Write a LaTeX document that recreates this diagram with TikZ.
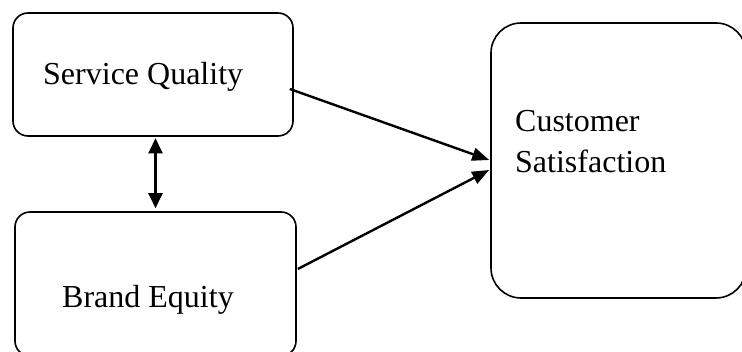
\documentclass[tikz,border=0pt]{standalone}
\usepackage{fontspec}
\setmainfont{Liberation Serif}
\usetikzlibrary{arrows.meta}
\begin{document}
\begin{tikzpicture}[x=1pt,y=-1pt,
  box/.style={draw=black, line width=1.6pt, rounded corners=15pt, inner sep=0pt, fill=white},
  lbl/.style={inner sep=0pt, anchor=base west, font=\fontsize{32}{38}\selectfont},
  conn/.style={line width=2.4pt, -{Triangle[length=17pt,width=13pt]}},
  dconn/.style={line width=2.4pt, {Triangle[length=15pt,width=14pt]}-{Triangle[length=15pt,width=14pt]}}]
\useasboundingbox (0,0) rectangle (742,352);
\clip (0,0) rectangle (742,352);
\fill[white] (0,0) rectangle (742,352);
\node[box, minimum width=280pt, minimum height=123pt] (sq) at (153,74.5) {};
\node[box, minimum width=281pt, minimum height=144pt] (be) at (155.5,284) {};
\node[box, rounded corners=30pt, minimum width=255pt, minimum height=275pt] (cs) at (618.5,160.5) {};
\node[lbl] (sqt) at (43,85) {Service Quality};
\node[lbl] (bet) at (62,308) {Brand Equity};
\node[lbl] (cst1) at (515,132) {Customer};
\node[lbl] (cst2) at (515,173) {Satisfaction};
\draw[conn] ([shift={(-4,14.5)}]sq.east) -- ([shift={(-1,-0.5)}]cs.west);
\draw[conn] ([shift={(1,-15)}]be.east) -- ([shift={(-1,9.5)}]cs.west);
\draw[dconn] ([yshift=-1.5pt]sq.south -| be.north) -- ([yshift=3pt]be.north);
\end{tikzpicture}
\end{document}
